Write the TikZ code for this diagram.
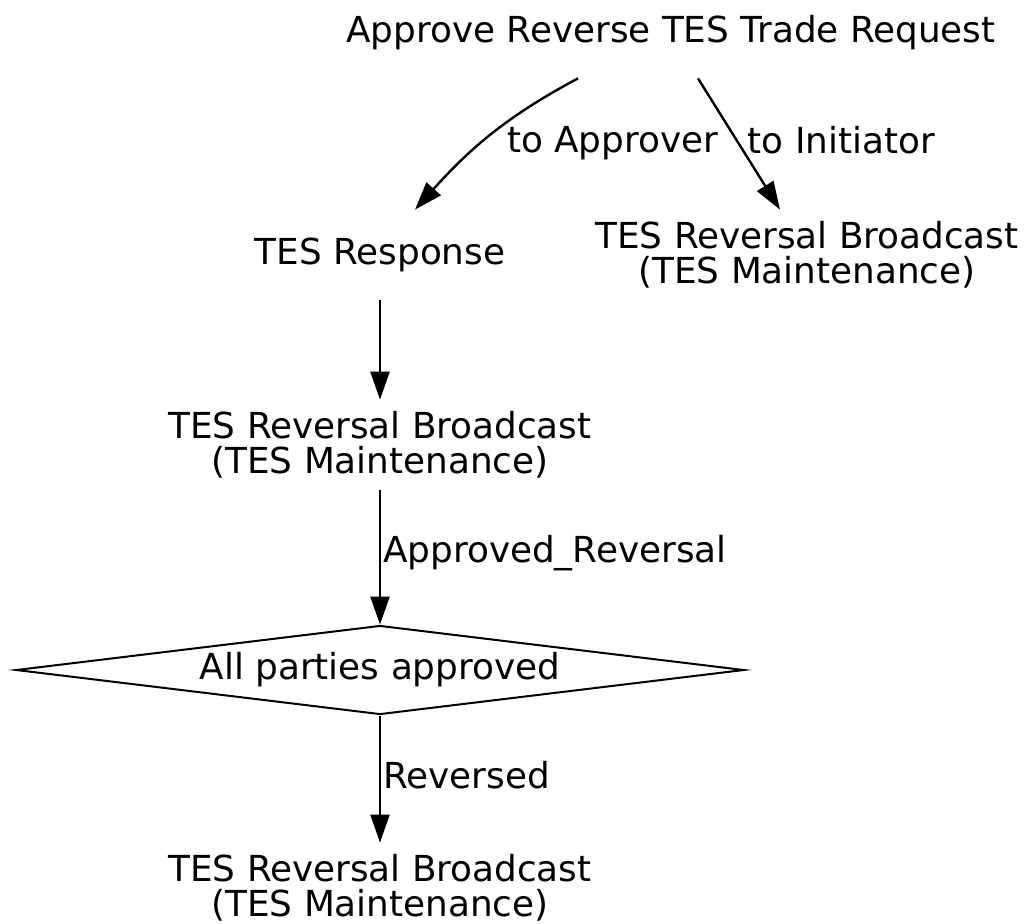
\documentclass[tikz,border=0pt]{standalone}
\usepackage{fontspec}
\setmainfont{DejaVu Sans}
\usepackage{tikz}
\usetikzlibrary{arrows.meta,shapes.geometric}

\begin{document}
\begin{tikzpicture}[
    x=0.5pt, y=-0.5pt,
    font=\fontsize{17.9}{17.5}\selectfont,
    >={Triangle[length=14pt, width=9.5pt]},
    state/.style={rectangle, align=center, inner sep=0pt, minimum height=45pt},
    check/.style={diamond, draw=black, line width=1pt, inner sep=0pt, shape aspect=8, minimum width=364pt, minimum height=44.5pt},
    lbl/.style={anchor=west, inner sep=1pt},
    flow/.style={->, line width=1.2pt}
  ]
    \useasboundingbox (0,0) rectangle (1024,923);
    \node[state] (req) at (671,33) {Approve Reverse TES Trade Request};
    \node[state] (resp) at (380,255) {TES Response};
    \node[state] (bcastInit) at (807,255) {TES Reversal Broadcast\\(TES Maintenance)};
    \node[state] (bcastResp) at (380,445) {TES Reversal Broadcast\\(TES Maintenance)};
    \node[check] (allOk) at (380,670) {All parties approved};
    \node[state] (bcastDone) at (380,888) {TES Reversal Broadcast\\(TES Maintenance)};
    \draw[flow] ([xshift=-46.5pt]req.south) to[out=208, in=48]
      node[lbl, pos=0.5, xshift=7pt, yshift=-4pt] {to Approver} ([xshift=17.5pt]resp.north);
    \draw[flow] ([xshift=13.5pt]req.south) --
      node[lbl, pos=0.47, xshift=4pt] {to Initiator} ([xshift=-13.5pt]bcastInit.north);
    \draw[flow] (resp) -- (bcastResp);
    \draw[flow] (bcastResp) -- node[lbl, pos=0.47] {Approved\_Reversal} (allOk);
    \draw[flow] (allOk) -- node[lbl, pos=0.47] {Reversed} (bcastDone);
  \end{tikzpicture}
\end{document}
